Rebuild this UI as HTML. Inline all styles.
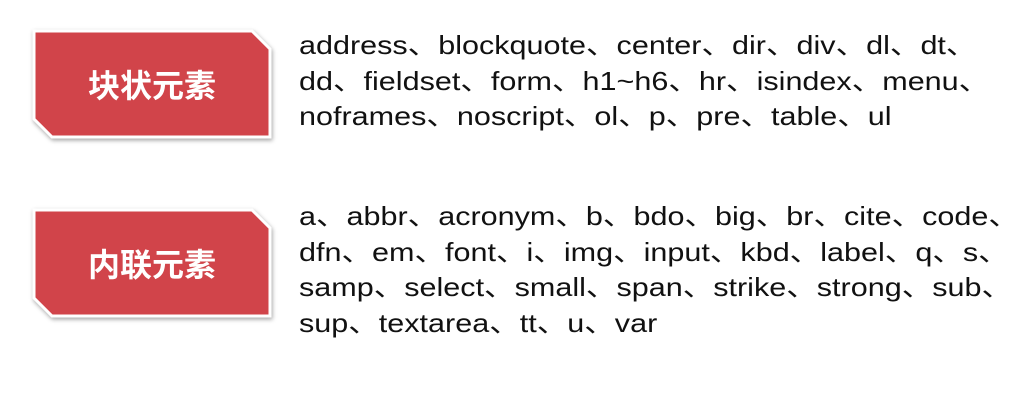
<!DOCTYPE html>
<html><head><meta charset="utf-8"><style>
body{margin:0;width:1025px;height:412px;background:#fff;overflow:hidden;position:relative;font-family:"Liberation Sans","Noto Sans CJK SC",sans-serif}
.box{position:absolute;left:32px;width:240px;height:110px;filter:drop-shadow(1px 2px 2px rgba(0,0,0,.35))}
.box svg{position:absolute;left:0;top:0}
.lbl{position:absolute;left:0;top:0;width:240px;height:110px;line-height:110px;text-align:center;color:#fff;font-size:32px;font-weight:bold;font-family:"Noto Sans CJK SC",sans-serif}
.txt{position:absolute;left:299px;font-size:26px;line-height:35.5px;color:#111;white-space:nowrap;transform:scaleX(1.175);transform-origin:0 0;font-family:"Liberation Sans","Noto Sans CJK SC",sans-serif}
</style></head><body>
<div class="box" style="top:29px">
<svg width="240" height="110"><polygon points="2,2 220,2 238,20 238,108 20,108 2,90" fill="#d1444a" stroke="#fff" stroke-width="3"/></svg>
<div class="lbl">块状元素</div></div>
<div class="box" style="top:208px">
<svg width="240" height="110"><polygon points="2,2 220,2 238,20 238,108 20,108 2,90" fill="#d1444a" stroke="#fff" stroke-width="3"/></svg>
<div class="lbl">内联元素</div></div>
<div class="txt" style="top:28px">address、blockquote、center、dir、div、dl、dt、<br>dd、fieldset、form、h1~h6、hr、isindex、menu、<br>noframes、noscript、ol、p、pre、table、ul</div>
<div class="txt" style="top:199px">a、abbr、acronym、b、bdo、big、br、cite、code、<br>dfn、em、font、i、img、input、kbd、label、q、s、<br>samp、select、small、span、strike、strong、sub、<br>sup、textarea、tt、u、var</div>
</body></html>
